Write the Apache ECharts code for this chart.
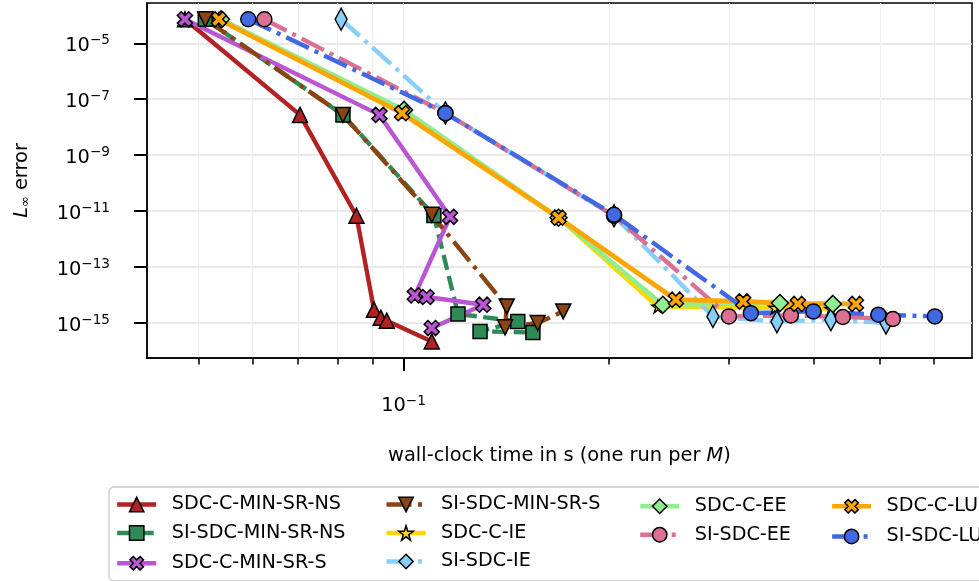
<!DOCTYPE html>
<html><head><meta charset="utf-8">
<script src="https://cdn.jsdelivr.net/npm/echarts@6/dist/echarts.min.js"></script>
<style>html,body{margin:0;padding:0;background:#fff}#c{width:979px;height:581px}</style>
</head><body><div id="c"></div>
<script>
// ---- data ----
const NAMES = ['SDC-C-MIN-SR-NS','SI-SDC-MIN-SR-NS','SDC-C-MIN-SR-S','SI-SDC-MIN-SR-S','SDC-C-IE','SI-SDC-IE','SDC-C-EE','SI-SDC-EE','SDC-C-LU','SI-SDC-LU'];

const X_SDC_C_MIN_SR_NS = [0.0478, 0.0705, 0.0853, 0.0905, 0.0926, 0.0945, 0.1100];
const Y_SDC_C_MIN_SR_NS = [7.2e-5, 2.75e-8, 6.8e-12, 3.0e-15, 1.55e-15, 1.2e-15, 2.2e-16];

const X_SI_SDC_MIN_SR_NS = [0.0512, 0.0815, 0.1108, 0.1202, 0.1471, 0.1295, 0.1548];
const Y_SI_SDC_MIN_SR_NS = [7.2e-5, 2.75e-8, 7.0e-12, 2.1e-15, 1.14e-15, 5.0e-16, 4.6e-16];

const X_SDC_C_MIN_SR_S = [0.0478, 0.0922, 0.1170, 0.1039, 0.1081, 0.1309, 0.1100];
const Y_SDC_C_MIN_SR_S = [7.2e-5, 2.75e-8, 6.25e-12, 9.7e-15, 8.5e-15, 4.5e-15, 6.6e-16];

const X_SI_SDC_MIN_SR_S = [0.0512, 0.0815, 0.1100, 0.1417, 0.1409, 0.1573, 0.1715];
const Y_SI_SDC_MIN_SR_S = [7.2e-5, 2.75e-8, 7.4e-12, 3.9e-15, 7.0e-16, 1.0e-15, 2.6e-15];

const X_SDC_C_IE = [0.0536, 0.0995, 0.1688, 0.2361, 0.3505, 0.4234];
const Y_SDC_C_IE = [7.2e-5, 3.5e-8, 5.8e-12, 3.8e-15, 3.5e-15, 3.2e-15];

const X_SI_SDC_IE = [0.0810, 0.1152, 0.2036, 0.2843, 0.3529, 0.4234, 0.5100];
const Y_SI_SDC_IE = [7.2e-5, 3.2e-8, 6.8e-12, 1.7e-15, 1.11e-15, 1.31e-15, 1.0e-15];

const X_SDC_C_EE = [0.0540, 0.1002, 0.1688, 0.2401, 0.3565, 0.4263];
const Y_SDC_C_EE = [7.2e-5, 4.15e-8, 5.8e-12, 4.5e-15, 5.2e-15, 4.8e-15];

const X_SI_SDC_EE = [0.0625, 0.1152, 0.2036, 0.3001, 0.3700, 0.4409, 0.5221];
const Y_SI_SDC_EE = [7.2e-5, 3.2e-8, 6.8e-12, 1.72e-15, 1.87e-15, 1.64e-15, 1.39e-15];

const X_SDC_C_LU = [0.0536, 0.0995, 0.1688, 0.2509, 0.3149, 0.3788, 0.4608];
const Y_SDC_C_LU = [7.2e-5, 3.16e-8, 5.8e-12, 6.8e-15, 5.9e-15, 4.8e-15, 4.8e-15];

const X_SI_SDC_LU = [0.0592, 0.1152, 0.2036, 0.3232, 0.3992, 0.4972, 0.6016];
const Y_SI_SDC_LU = [7.2e-5, 3.16e-8, 7.4e-12, 2.24e-15, 2.6e-15, 1.98e-15, 1.72e-15];

const X_MAJOR_TICKS = [0.1];
const X_MINOR_TICKS = [0.05, 0.06, 0.07, 0.08, 0.09, 0.1, 0.2, 0.3, 0.4, 0.5, 0.6];
const Y_TICKS = [1e-15, 1e-13, 1e-11, 1e-9, 1e-7, 1e-5];
const X_RANGE = [0.04205, 0.682];
const Y_RANGE = [5.6e-17, 2.75e-4];

// ---- styles ----
const FONT = 'DejaVu Sans';
const FS = 19.4;
const LFS = 19.2;
const LW = 4.4;
const SYM_X = 'path://M-1,-3L1,-3L1,-1L3,-1L3,1L1,1L1,3L-1,3L-1,1L-3,1L-3,-1L-1,-1Z';
const SYM_STAR = 'path://M0,-100L22.45,-30.9L95.1,-30.9L36.3,11.8L58.8,80.9L0,38.2L-58.8,80.9L-36.3,11.8L-95.1,-30.9L-22.45,-30.9Z';
const DASH = [15, 6.5];
const DASHDOT = [25, 6.5, 4, 6.5];

const STYLES = [
  {color:'#b22222', symbol:'triangle', size:15, rotate:0, type:'solid'},
  {color:'#2e8b57', symbol:'rect', size:14, rotate:0, type:DASH},
  {color:'#ba55d3', symbol:SYM_X, size:16, rotate:45, type:'solid'},
  {color:'#8b4513', symbol:'triangle', size:15, rotate:180, type:DASHDOT},
  {color:'#ffd700', symbol:SYM_STAR, size:12, rotate:0, type:'solid'},
  {color:'#87cefa', symbol:'diamond', size:[12,22], rotate:0, type:DASHDOT},
  {color:'#90ee90', symbol:'diamond', size:17, rotate:0, type:'solid'},
  {color:'#db7093', symbol:'circle', size:15, rotate:0, type:DASHDOT},
  {color:'#ffa500', symbol:SYM_X, size:16, rotate:45, type:'solid'},
  {color:'#4169e1', symbol:'circle', size:15, rotate:0, type:DASHDOT}
];

const XS = [X_SDC_C_MIN_SR_NS, X_SI_SDC_MIN_SR_NS, X_SDC_C_MIN_SR_S, X_SI_SDC_MIN_SR_S, X_SDC_C_IE, X_SI_SDC_IE, X_SDC_C_EE, X_SI_SDC_EE, X_SDC_C_LU, X_SI_SDC_LU];
const YS = [Y_SDC_C_MIN_SR_NS, Y_SI_SDC_MIN_SR_NS, Y_SDC_C_MIN_SR_S, Y_SI_SDC_MIN_SR_S, Y_SDC_C_IE, Y_SI_SDC_IE, Y_SDC_C_EE, Y_SI_SDC_EE, Y_SDC_C_LU, Y_SI_SDC_LU];

const series = NAMES.map((name, i) => {
  const s = STYLES[i];
  return {
    name: name, type: 'line', xAxisIndex: 0, yAxisIndex: 0,
    data: XS[i].map((x, j) => [x, YS[i][j]]),
    symbol: s.symbol, symbolSize: s.size, symbolRotate: s.rotate,
    showSymbol: true, showAllSymbol: true,
    lineStyle: {color: s.color, width: i === 8 ? LW + 0.4 : LW, type: s.type, cap: 'butt'},
    itemStyle: {color: s.color, borderColor: '#000', borderWidth: 1.5, opacity: 1},
    emphasis: {disabled: true},
    animation: false
  };
});

function powLabel(v) {
  const e = Math.round(Math.log10(v));
  return '{b|10}{s|' + (e < 0 ? '\u2212' + (-e) : e) + '}';
}
const LABEL_RICH = {
  b: {fontFamily: FONT, fontSize: FS, lineHeight: FS, padding: [5, 0, 0, 0], color: '#000'},
  s: {fontFamily: FONT, fontSize: 13.6, lineHeight: 14, verticalAlign: 'top', color: '#000'}
};

const LEGEND_COMMON = {
  show: true, type: 'plain', orient: 'vertical',
  itemWidth: 39, itemHeight: 18, itemGap: 9.5,
  lineStyle: {width: LW},
  itemStyle: {borderColor: '#000', borderWidth: 1.5},
  textStyle: {fontFamily: FONT, fontSize: LFS, color: '#000', padding: [0, 29.4, 0, 10.5], backgroundColor: 'rgba(255,255,255,0)'},
  selectedMode: false
};

const option = {
  backgroundColor: '#fff',
  animation: false,
  grid: {left: 147, right: 7, top: 3, bottom: 223, show: true, borderColor: '#000', borderWidth: 1.5, backgroundColor: 'transparent'},
  xAxis: [
    {
      type: 'log', min: X_RANGE[0], max: X_RANGE[1], position: 'bottom',
      axisLine: {show: true, lineStyle: {color: '#000', width: 1.5}},
      axisTick: {show: true, customValues: X_MAJOR_TICKS, length: 13, lineStyle: {color: '#000', width: 2}},
      axisLabel: {show: true, customValues: X_MAJOR_TICKS, margin: 36, formatter: powLabel, rich: LABEL_RICH},
      splitLine: {show: false}, minorTick: {show: false},
      name: 'wall-clock time in s (one run per {i|M})', nameLocation: 'middle', nameGap: 88,
      nameTextStyle: {fontFamily: FONT, fontSize: FS, color: '#000',
        rich: {i: {fontFamily: FONT, fontSize: FS, fontStyle: 'italic', color: '#000'}}}
    },
    {
      type: 'log', min: X_RANGE[0], max: X_RANGE[1], position: 'bottom', gridIndex: 0,
      axisLine: {show: false},
      axisTick: {show: true, customValues: X_MINOR_TICKS, length: 6.5, lineStyle: {color: '#000', width: 1.5}},
      axisLabel: {show: false},
      splitLine: {show: true, lineStyle: {color: '#efefef', width: 1.2}}
    }
  ],
  yAxis: {
    type: 'log', min: Y_RANGE[0], max: Y_RANGE[1],
    axisLine: {show: true, lineStyle: {color: '#000', width: 1.5}},
    axisTick: {show: true, customValues: Y_TICKS, length: 13, lineStyle: {color: '#000', width: 2}},
    axisLabel: {show: true, customValues: Y_TICKS, margin: 37, formatter: powLabel, rich: LABEL_RICH},
    splitLine: {show: true, lineStyle: {color: '#e3e3e3', width: 1.5}},
    minorTick: {show: false},
    name: '{i|L}{sub|\u221e} error', nameLocation: 'middle', nameGap: 115,
    nameTextStyle: {fontFamily: FONT, fontSize: FS, color: '#000',
      rich: {
        i: {fontFamily: FONT, fontSize: FS, fontStyle: 'italic', lineHeight: FS, padding: [0, 0, 3, 0], verticalAlign: 'top', color: '#000'},
        sub: {fontFamily: FONT, fontSize: 13, lineHeight: 13, verticalAlign: 'bottom', color: '#000'}
      }}
  },
  legend: [
    Object.assign({}, LEGEND_COMMON, {
      left: 109, top: 487, height: 80,
      data: NAMES.slice(0, 6),
      padding: [8, 420, 6.5, 6],
      backgroundColor: '#fff', borderColor: '#cccccc', borderWidth: 1.4, borderRadius: 5
    }),
    Object.assign({}, LEGEND_COMMON, {
      left: 638, top: 495, height: 52,
      data: NAMES.slice(6),
      padding: 0,
      backgroundColor: 'transparent', borderWidth: 0
    })
  ],
  series: series
};

const chart = echarts.init(document.getElementById('c'), null, {renderer: 'canvas'});
chart.setOption(option);
</script>
</body></html>
